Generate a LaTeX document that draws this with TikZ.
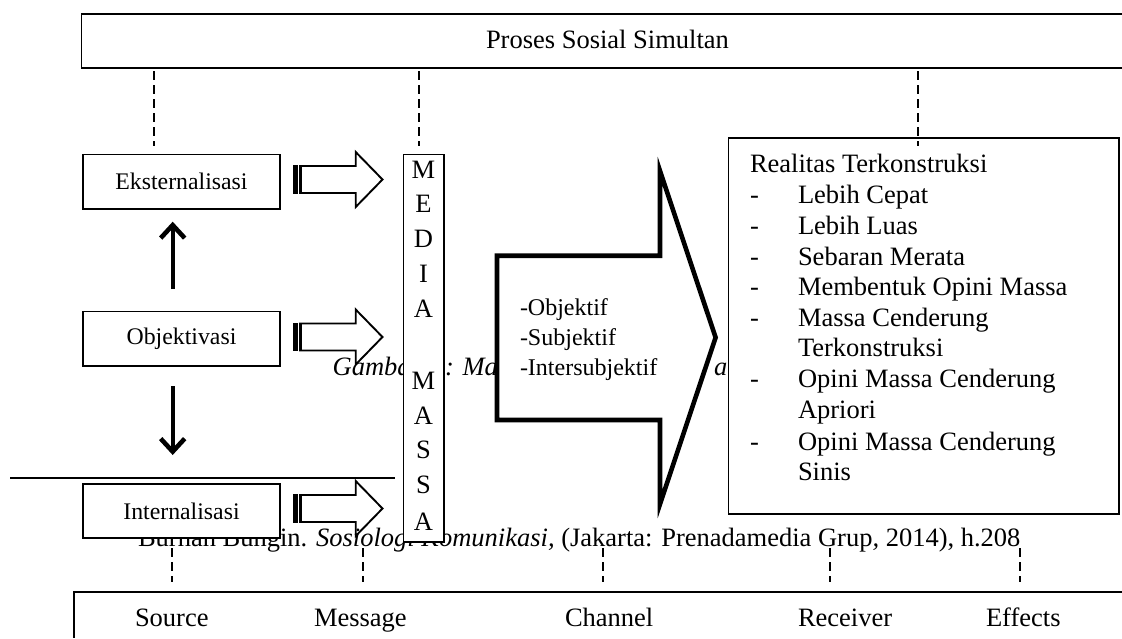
\documentclass[tikz,border=0pt]{standalone}
\usepackage{fontspec}
\setmainfont{Liberation Serif}
\usetikzlibrary{arrows.meta}
\tikzset{
  x=1pt,y=-1pt,
  every node/.style={inner sep=0pt,outer sep=0pt},
  frameline/.style={draw=black,line width=1.8pt},
  whitebox/.style={frameline,fill=white,minimum width=197pt,minimum height=54.5pt,font=\fontsize{23.8}{28}\selectfont},
  bigtext/.style={font=\fontsize{26.5}{30.7}\selectfont,anchor=base west},
  captiontext/.style={font=\fontsize{26.5}{30.7}\selectfont\itshape,anchor=base west},
  midtext/.style={font=\fontsize{24}{30}\selectfont,anchor=base west},
  letter/.style={font=\fontsize{26.5}{30.7}\selectfont,anchor=base},
  dashline/.style={draw=black,line width=2pt,dash pattern=on 9pt off 5pt},
  flowarrow/.style={draw=black,line width=3.8pt,-{Straight Barb[length=13pt,width=24pt,line width=4.6pt]}},
  blockline/.style={draw=black,line width=1.9pt,fill=white,miter limit=10},
}
\newcommand{\blockarrow}[1]{%
  \draw[blockline] (300,#1-13.5) -- (355.7,#1-13.5) -- (355.7,#1-27.5) -- (382.5,#1) -- (355.7,#1+27.5) -- (355.7,#1+13.5) -- (300,#1+13.5) -- cycle;
  \fill[black] (292.8,#1-14.3) rectangle (298.3,#1+14.3);
  \fill[black] (300,#1-14.3) rectangle (302.3,#1+14.3);
}
\begin{document}
\begin{tikzpicture}
\useasboundingbox (0,0) rectangle (1122,638);
\fill[white] (0,0) rectangle (1122,638);

% block arrows
\blockarrow{179.5}
\blockarrow{337}
\blockarrow{508.5}

% running text behind the boxes
\node[captiontext] (capa) at (332.7,375) {Gambar};
\node[captiontext] (capb) at (445,375) {: Mal};
\node[captiontext] (capc) at (714,375) {al};
\node[bigtext] (source) at (138,546.7) {Burhan Bungin. \textit{Sosiologi Komunikasi,} (Jakarta: Prenadamedia Grup\textit{,} 2014), h.208};

% top and bottom bands
\draw[frameline] (1122,14) -- (81.5,14) -- (81.5,68) -- (1122,68);
\node[bigtext] (proses) at (486,48.2) {Proses Sosial Simultan};
\draw[frameline] (1122,592) -- (74,592) -- (74,638);
\node[bigtext] (src) at (135,626.7) {Source};
\node[bigtext] (msg) at (314,626.7) {Message};
\node[bigtext] (chn) at (565,626.7) {Channel};
\node[bigtext] (rcv) at (798,626.7) {Receiver};
\node[bigtext] (eff) at (986,626.7) {Effects};

% horizontal rule
\coordinate (ruleA) at (10,477.7);
\coordinate (ruleB) at (395,477.7);
\draw[black,line width=2pt] (ruleA) -- (ruleB);

% stage boxes
\node[whitebox] (eks) at (181.5,181.8) {Eksternalisasi};
\node[whitebox] (obj) at (181.5,338.8) {Objektivasi};
\node[whitebox] (int) at (181.5,511) {Internalisasi};

% media column
\draw[frameline,fill=white] (403.5,154.5) rectangle (444,541.7);
\node[letter] (m1) at (423.5,178) {M};
\node[letter] (m2) at (423.5,212.5) {E};
\node[letter] (m3) at (423.5,247.5) {D};
\node[letter] (m4) at (423.5,282) {I};
\node[letter] (m5) at (423.5,317.5) {A};
\node[letter] (m6) at (423.5,389) {M};
\node[letter] (m7) at (423.5,424) {A};
\node[letter] (m8) at (423.5,458.5) {S};
\node[letter] (m9) at (423.5,493.5) {S};
\node[letter] (m10) at (423.5,530) {A};

% big arrow
\draw[black,line width=4.6pt,fill=white,miter limit=10] (497,255.7) -- (660,255.7) -- (660,171) -- (715.6,337.5) -- (660,504) -- (660,420) -- (497,420) -- cycle;
\node[midtext] (t1) at (520,315) {-Objektif};
\node[midtext] (t2) at (520,345) {-Subjektif};
\node[midtext] (t3) at (520,375) {-Intersubjektif};

% constructed-reality box
\draw[frameline,fill=white] (728.5,138) rectangle (1119,514);
\node[bigtext] (r0) at (750,172.7) {Realitas Terkonstruksi};
\foreach \n/\y/\s in {1/203.5/Lebih Cepat,2/234.7/Lebih Luas,3/265/Sebaran Merata,4/295.7/Membentuk Opini Massa,5/326.7/Massa Cenderung,6/387.7/Opini Massa Cenderung,7/450/Opini Massa Cenderung}{
  \node[bigtext] (d\n) at (750,\y) {-};
  \node[bigtext] (r\n) at (798,\y) {\s};
}
\node[bigtext] (r5b) at (798,356.7) {Terkonstruksi};
\node[bigtext] (r6b) at (798,418) {Apriori};
\node[bigtext] (r7b) at (798,480.7) {Sinis};

% dashed links
\foreach \i/\x/\a/\b in {a/154/71/146,b/419/71/146,c/917.5/71/146,d/172.3/548/582,e/363.3/548/582,f/603/548/582,g/830/548/582,h/1020.4/548/582}{
  \coordinate (da\i) at (\x,\a);
  \coordinate (db\i) at (\x,\b);
  \draw[dashline] (da\i) -- (db\i);
}

% vertical arrows
\coordinate (upA) at (172.7,289);
\coordinate (upB) at (172.7,221.7);
\coordinate (dnA) at (172.7,386);
\coordinate (dnB) at (172.7,455);
\draw[flowarrow] (upA) -- (upB);
\draw[flowarrow] (dnA) -- (dnB);
\end{tikzpicture}
\end{document}
